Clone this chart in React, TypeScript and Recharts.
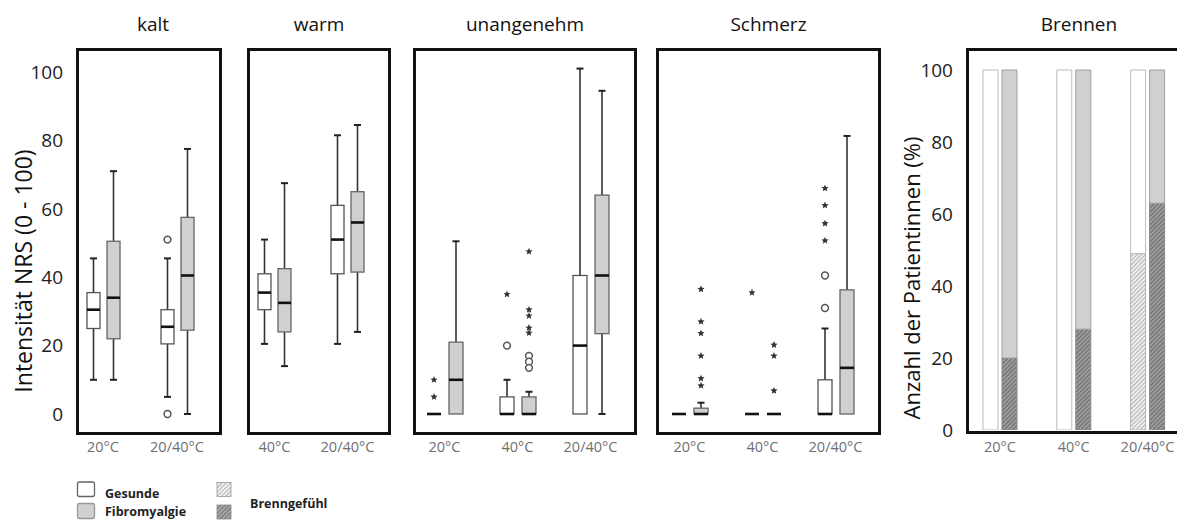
import React from 'react'
import { ComposedChart, BarChart, Bar, XAxis, YAxis } from 'recharts'

type Box = {
  min: number
  q1: number
  median: number
  q3: number
  max: number
  circles?: number[]
  stars?: number[]
}

// kalt
const kaltCategories = ['20°C', '20/40°C']
const kaltGesunde: Box[] = [
  { min: 10, q1: 25, median: 30.5, q3: 35.5, max: 45.5 },
  { min: 5, q1: 20.5, median: 25.5, q3: 30.5, max: 45.5, circles: [51, 0] },
]
const kaltFibro: Box[] = [
  { min: 10, q1: 22, median: 34, q3: 50.5, max: 71 },
  { min: 0, q1: 24.5, median: 40.5, q3: 57.5, max: 77.5 },
]

// warm
const warmCategories = ['40°C', '20/40°C']
const warmGesunde: Box[] = [
  { min: 20.5, q1: 30.5, median: 35.5, q3: 41, max: 51 },
  { min: 20.5, q1: 41, median: 51, q3: 61, max: 81.5 },
]
const warmFibro: Box[] = [
  { min: 14, q1: 24, median: 32.5, q3: 42.5, max: 67.5 },
  { min: 24, q1: 41.5, median: 56, q3: 65, max: 84.5 },
]

// unangenehm
const unangenehmCategories = ['20°C', '40°C', '20/40°C']
const unangenehmGesunde: Box[] = [
  { min: 0, q1: 0, median: 0, q3: 0, max: 0, stars: [10, 5] },
  { min: 0, q1: 0, median: 0, q3: 5, max: 10, circles: [20], stars: [35] },
  { min: 0, q1: 0, median: 20, q3: 40.5, max: 101 },
]
const unangenehmFibro: Box[] = [
  { min: 0, q1: 0, median: 10, q3: 21, max: 50.5 },
  {
    min: 0, q1: 0, median: 0, q3: 5, max: 6.5,
    circles: [17, 15.3, 13.5],
    stars: [47.5, 30.5, 28.7, 25.2, 23.7],
  },
  { min: 0, q1: 23.5, median: 40.5, q3: 64, max: 94.5 },
]

// Schmerz
const schmerzCategories = ['20°C', '40°C', '20/40°C']
const schmerzGesunde: Box[] = [
  { min: 0, q1: 0, median: 0, q3: 0, max: 0 },
  { min: 0, q1: 0, median: 0, q3: 0, max: 0, stars: [35.5] },
  { min: 0, q1: 0, median: 0, q3: 10, max: 25, circles: [31, 40.5], stars: [66, 61, 55.7, 50.7] },
]
const schmerzFibro: Box[] = [
  { min: 0, q1: 0, median: 0, q3: 1.7, max: 3.3, stars: [36.5, 27, 23.6, 17, 10.4, 8.3] },
  { min: 0, q1: 0, median: 0, q3: 0, max: 0, stars: [20.2, 17, 6.8] },
  { min: 0, q1: 0, median: 13.5, q3: 36.3, max: 81.3 },
]

// Brennen: Anteil der Patientinnen (%), davon mit Brenngefühl
const brennenCategories = ['20°C', '40°C', '20/40°C']
const brennenGesundeTotal = [100, 100, 100]
const brennenFibroTotal = [100, 100, 100]
const brennenGesundeBrenn = [0, 0, 49]
const brennenFibroBrenn = [20, 28, 63]

const FONT = '"Open Sans", "Noto Sans", sans-serif'

// box panels share one vertical scale
const BOX_TOP = 51
const BOX_BOTTOM = 432
const ZERO_Y = 414
const PX_PER_UNIT = 3.42
const BOX_DOMAIN: [number, number] = [
  (ZERO_Y - BOX_BOTTOM) / PX_PER_UNIT,
  (ZERO_Y - BOX_TOP) / PX_PER_UNIT,
]

function starPath(cx: number, cy: number, r: number) {
  let d = ''
  for (let i = 0; i < 10; i++) {
    const rad = i % 2 === 0 ? r : r * 0.45
    const a = -Math.PI / 2 + (i * Math.PI) / 5
    d += (i === 0 ? 'M' : 'L') + (cx + rad * Math.cos(a)).toFixed(2) + ',' + (cy + rad * Math.sin(a)).toFixed(2)
  }
  return d + 'Z'
}

// the bar spans the whole domain, so its y/height give the axis scale
const makeBoxShape = (key: 'g' | 'f', fill: string, stroke: string) => (props: any) => {
  const { x, y, width, height, payload } = props
  const b: Box = payload[key]
  const [lo, hi] = BOX_DOMAIN
  const toY = (v: number) => y + (height * (hi - v)) / (hi - lo)
  const cx = x + width / 2
  const cap = 3.5
  return (
    <g>
      {b.max > b.q3 && (
        <>
          <line x1={cx} x2={cx} y1={toY(b.max)} y2={toY(b.q3)} stroke="#333" strokeWidth={1.6} />
          <line x1={cx - cap} x2={cx + cap} y1={toY(b.max)} y2={toY(b.max)} stroke="#222" strokeWidth={2} />
        </>
      )}
      {b.min < b.q1 && (
        <>
          <line x1={cx} x2={cx} y1={toY(b.q1)} y2={toY(b.min)} stroke="#333" strokeWidth={1.6} />
          <line x1={cx - cap} x2={cx + cap} y1={toY(b.min)} y2={toY(b.min)} stroke="#222" strokeWidth={2} />
        </>
      )}
      {b.q3 > b.q1 && (
        <rect
          x={x}
          y={toY(b.q3)}
          width={width}
          height={toY(b.q1) - toY(b.q3)}
          fill={fill}
          stroke={stroke}
          strokeWidth={1.3}
        />
      )}
      <line x1={x} x2={x + width} y1={toY(b.median)} y2={toY(b.median)} stroke="#111" strokeWidth={2.6} />
      {(b.circles || []).map((v, i) => (
        <circle key={'c' + i} cx={cx} cy={toY(v)} r={3.4} fill="#fff" stroke="#555" strokeWidth={1.5} />
      ))}
      {(b.stars || []).map((v, i) => (
        <path key={'s' + i} d={starPath(cx, toY(v), 3.8)} fill="#333" />
      ))}
    </g>
  )
}

const gesundeShape = makeBoxShape('g', '#ffffff', '#555')
const fibroShape = makeBoxShape('f', '#d0d0d0', '#666')

interface BoxPanelProps {
  categories: string[]
  gesunde: Box[]
  fibro: Box[]
  plotLeft: number
  band: number
  barSize: number
  barGap: number
  showYAxis?: boolean
}

function BoxPanel({ categories, gesunde, fibro, plotLeft, band, barSize, barGap, showYAxis }: BoxPanelProps) {
  const data = categories.map((cat, i) => ({
    cat,
    g: gesunde[i],
    f: fibro[i],
    gSpan: BOX_DOMAIN,
    fSpan: BOX_DOMAIN,
  }))
  const yAxisWidth = showYAxis ? 50 : 0
  return (
    <div style={{ position: 'absolute', left: plotLeft - yAxisWidth, top: BOX_TOP }}>
      <ComposedChart
        width={band * categories.length + yAxisWidth}
        height={BOX_BOTTOM - BOX_TOP + 40}
        data={data}
        margin={{ top: 0, right: 0, bottom: 0, left: 0 }}
        barSize={barSize}
        barGap={barGap}
        barCategoryGap={0}
      >
        <XAxis
          dataKey="cat"
          height={40}
          interval={0}
          axisLine={false}
          tickLine={false}
          tickSize={0}
          tickMargin={10}
          tick={{ fontSize: 14.5, fill: '#707070', fontFamily: FONT }}
        />
        <YAxis
          type="number"
          domain={BOX_DOMAIN}
          allowDataOverflow
          hide={!showYAxis}
          width={yAxisWidth}
          ticks={[0, 20, 40, 60, 80, 100]}
          axisLine={false}
          tickLine={false}
          tickSize={0}
          tickMargin={3}
          tick={{ fontSize: 19, fill: '#222', fontFamily: FONT }}
        />
        <Bar dataKey="gSpan" shape={gesundeShape} isAnimationActive={false} />
        <Bar dataKey="fSpan" shape={fibroShape} isAnimationActive={false} />
      </ComposedChart>
    </div>
  )
}

const BRENN_TOP = 51
const BRENN_BOTTOM = 430
const BRENN_PX = 3.6

function BrennenPanel() {
  const data = brennenCategories.map((cat, i) => ({
    cat,
    gBrenn: brennenGesundeBrenn[i],
    gRest: brennenGesundeTotal[i] - brennenGesundeBrenn[i],
    fBrenn: brennenFibroBrenn[i],
    fRest: brennenFibroTotal[i] - brennenFibroBrenn[i],
  }))
  const plotLeft = 962.8
  const band = 73.8
  const yAxisWidth = 60
  return (
    <div style={{ position: 'absolute', left: plotLeft - yAxisWidth, top: BRENN_TOP }}>
      <BarChart
        width={band * 3 + yAxisWidth}
        height={BRENN_BOTTOM - BRENN_TOP + 40}
        data={data}
        margin={{ top: 0, right: 0, bottom: 0, left: 0 }}
        barSize={15}
        barGap={4}
        barCategoryGap={0}
      >
        <defs>
          <pattern id="hatchLight" width="3" height="3" patternUnits="userSpaceOnUse" patternTransform="rotate(45)">
            <rect width="3" height="3" fill="#eeeeee" />
            <line x1="0" y1="0" x2="0" y2="3" stroke="#9a9a9a" strokeWidth="1.4" />
          </pattern>
          <pattern id="hatchDark" width="3" height="3" patternUnits="userSpaceOnUse" patternTransform="rotate(45)">
            <rect width="3" height="3" fill="#9c9c9c" />
            <line x1="0" y1="0" x2="0" y2="3" stroke="#555" strokeWidth="1.4" />
          </pattern>
        </defs>
        <XAxis
          dataKey="cat"
          height={40}
          interval={0}
          axisLine={false}
          tickLine={false}
          tickSize={0}
          tickMargin={12}
          tick={{ fontSize: 14.5, fill: '#707070', fontFamily: FONT }}
        />
        <YAxis
          type="number"
          domain={[0, (BRENN_BOTTOM - BRENN_TOP) / BRENN_PX]}
          allowDataOverflow
          width={yAxisWidth}
          ticks={[0, 20, 40, 60, 80, 100]}
          axisLine={false}
          tickLine={false}
          tickSize={0}
          tickMargin={10}
          tick={{ fontSize: 19, fill: '#222', fontFamily: FONT }}
        />
        <Bar dataKey="gBrenn" stackId="g" fill="url(#hatchLight)" stroke="#b5b5b5" isAnimationActive={false} />
        <Bar dataKey="gRest" stackId="g" fill="#ffffff" stroke="#bbbbbb" isAnimationActive={false} />
        <Bar dataKey="fBrenn" stackId="f" fill="url(#hatchDark)" stroke="#888" isAnimationActive={false} />
        <Bar dataKey="fRest" stackId="f" fill="#d0d0d0" stroke="#a0a0a0" isAnimationActive={false} />
      </BarChart>
    </div>
  )
}

const frame = (left: number, width: number): React.CSSProperties => ({
  position: 'absolute',
  left,
  top: 48,
  width,
  height: 387,
  boxSizing: 'border-box',
  border: '3px solid #111',
})

export default function App() {
  return (
    <div
      style={{
        position: 'fixed',
        left: 0,
        top: 0,
        width: 1177,
        height: 520,
        overflow: 'hidden',
        background: '#fff',
        fontFamily: FONT,
      }}
    >
      <div style={frame(76, 146)} />
      <div style={frame(247, 144)} />
      <div style={frame(413, 224)} />
      <div style={frame(656, 225)} />
      <div
        style={{
          position: 'absolute',
          left: 966,
          top: 48,
          width: 240,
          height: 386,
          boxSizing: 'border-box',
          borderTop: '3px solid #111',
          borderLeft: '3px solid #111',
          borderBottom: '3px solid #111',
        }}
      />

      <BoxPanel categories={kaltCategories} gesunde={kaltGesunde} fibro={kaltFibro} plotLeft={66} band={74} barSize={13} barGap={7} showYAxis />
      <BoxPanel categories={warmCategories} gesunde={warmGesunde} fibro={warmFibro} plotLeft={238.3} band={73} barSize={13} barGap={7} />
      <BoxPanel categories={unangenehmCategories} gesunde={unangenehmGesunde} fibro={unangenehmFibro} plotLeft={407.5} band={73} barSize={14} barGap={8} />
      <BoxPanel categories={schmerzCategories} gesunde={schmerzGesunde} fibro={schmerzFibro} plotLeft={652.5} band={73} barSize={14} barGap={8} />
      <BrennenPanel />

      <svg width={1177} height={520} style={{ position: 'absolute', left: 0, top: 0, pointerEvents: 'none' }}>
        <defs>
          <pattern id="lgLight" width="3" height="3" patternUnits="userSpaceOnUse" patternTransform="rotate(45)">
            <rect width="3" height="3" fill="#f2f2f2" />
            <line x1="0" y1="0" x2="0" y2="3" stroke="#8a8a8a" strokeWidth="1.3" />
          </pattern>
          <pattern id="lgDark" width="3" height="3" patternUnits="userSpaceOnUse" patternTransform="rotate(45)">
            <rect width="3" height="3" fill="#a8a8a8" />
            <line x1="0" y1="0" x2="0" y2="3" stroke="#555" strokeWidth="1.3" />
          </pattern>
        </defs>
        <g fontFamily={FONT} fontSize={19} fill="#111" textAnchor="middle">
          <text x={153} y={31}>kalt</text>
          <text x={319} y={31}>warm</text>
          <text x={525} y={31}>unangenehm</text>
          <text x={768.5} y={31}>Schmerz</text>
          <text x={1079} y={31}>Brennen</text>
        </g>
        <text
          x={23}
          y={271}
          transform="rotate(-90 23 271)"
          textAnchor="middle"
          dominantBaseline="central"
          fontFamily={FONT}
          fontSize={23}
          fill="#111"
        >
          Intensität  NRS (0 - 100)
        </text>
        <text
          x={911}
          y={278}
          transform="rotate(-90 911 278)"
          textAnchor="middle"
          dominantBaseline="central"
          fontFamily={FONT}
          fontSize={22}
          fill="#111"
        >
          Anzahl der Patientinnen (%)
        </text>

        <rect x={77.5} y={482} width={17} height={14.5} rx={2} fill="#fff" stroke="#666" strokeWidth={1.3} />
        <rect x={77.5} y={503.5} width={17} height={15} rx={2} fill="#d0d0d0" stroke="#999" strokeWidth={1.3} />
        <rect x={217} y={482.5} width={14} height={14} fill="url(#lgLight)" stroke="#999" strokeWidth={0.8} />
        <rect x={217} y={505} width={14} height={14} fill="url(#lgDark)" stroke="#888" strokeWidth={0.8} />
        <g fontFamily={FONT} fontSize={12.5} fontWeight="bold" fill="#222">
          <text x={105} y={497.5}>Gesunde</text>
          <text x={105} y={516}>Fibromyalgie</text>
          <text x={250} y={507.5}>Brenngefühl</text>
        </g>
      </svg>
    </div>
  )
}
